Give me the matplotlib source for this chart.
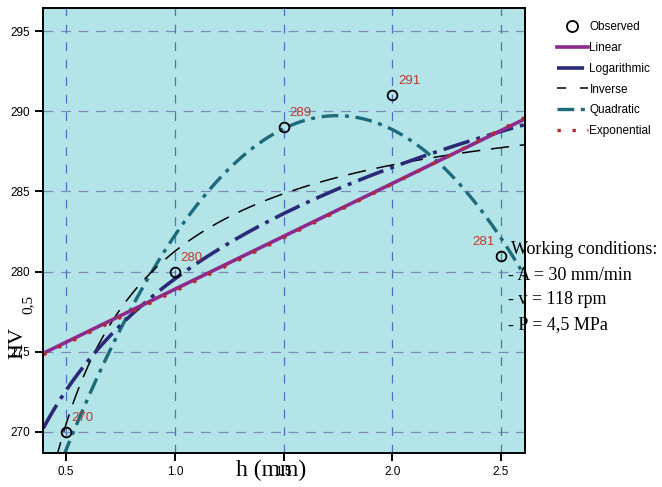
import numpy as np
import matplotlib
matplotlib.use('Agg')
import matplotlib.pyplot as plt
from matplotlib.lines import Line2D

# observed hardness vs depth
obs_h = [0.5, 1.0, 1.5, 2.0, 2.5]
obs_hv = [270, 280, 289, 291, 281]
obs_labels = ['270', '280', '289', '291', '281']

x_ticks = [0.5, 1.0, 1.5, 2.0, 2.5]
y_ticks = [270, 275, 280, 285, 290, 295]
conditions = ['Working conditions:', '- A = 30 mm/min', '- v = 118 rpm', '- P = 4,5 MPa']

h = np.array(obs_h)
hv = np.array(obs_hv)

# regression models fitted on the observed points
xs = np.linspace(0.395, 2.61, 300)
lin = np.polyval(np.polyfit(h, hv, 1), xs)
logc = np.polyfit(np.log(h), hv, 1)
logm = np.polyval(logc, np.log(xs))
invc = np.polyfit(1 / h, hv, 1)
inv = np.polyval(invc, 1 / xs)
quad = np.polyval(np.polyfit(h, hv, 2), xs)
expo = np.exp(np.polyval(np.polyfit(h, np.log(hv), 1), xs))

sans = 'Liberation Sans'
serif = 'Liberation Serif'

fig = plt.figure(figsize=(6.62, 4.87), dpi=100)
ax = fig.add_axes([43 / 662, 34 / 487, 482 / 662, 445 / 487])
ax.set_facecolor('#b3e5e8')

for yv in y_ticks:
    ax.axhline(yv, color='#7f8cb8', lw=0.9, ls=(0, (8, 6)), zorder=1)
for xv in x_ticks:
    ax.axvline(xv, color='#4f6fc0', lw=0.9, ls=(0, (7, 7)), zorder=1)

ax.plot(xs, quad, color='#1d6a7c', lw=2.4, ls=(0, (5, 2, 1.2, 2)), zorder=3)
ax.plot(xs, inv, color='black', lw=1.1, ls=(0, (12, 7)), zorder=3)
ax.plot(xs, logm, color='#2b2a78', lw=2.6, ls=(0, (7.5, 2, 1.1, 2)), zorder=3)
ax.plot(xs, lin, color='#8e2a8c', lw=2.6, zorder=4)
ax.plot(xs, expo, color='#b52a2a', lw=2.4, ls=(0, (1, 4)), zorder=5)
ax.plot(h, hv, 'o', mfc='none', mec='black', mew=1.3, ms=7, zorder=6)

for xv, yv, lab in zip(obs_h, obs_hv, obs_labels):
    if xv == 2.5:
        ax.annotate(lab, (xv, yv), xytext=(-5, 10), textcoords='offset points',
                    ha='right', va='center', color='#c0392b', fontsize=9.5, family=sans)
    else:
        ax.annotate(lab, (xv, yv), xytext=(4, 10), textcoords='offset points',
                    ha='left', va='center', color='#c0392b', fontsize=9.5, family=sans)

ax.set_xlim(0.394, 2.61)
ax.set_ylim(268.69, 296.44)
ax.set_xticks(x_ticks)
ax.set_xticklabels(['0.5', '1.0', '1.5', '2.0', '2.5'], family=sans, fontsize=8.5)
ax.set_yticks(y_ticks)
ax.set_yticklabels([str(v) for v in y_ticks], family=sans, fontsize=8.5)
ax.tick_params(axis='both', length=6, width=1.4, color='black', direction='out')
for s in ax.spines.values():
    s.set_linewidth(1.4)
    s.set_zorder(7)

fig.text(271 / 662, 1 - 470 / 487, 'h (mm)', family=serif, fontsize=17,
         ha='center', va='center')
fig.text(18 / 662, 1 - 343 / 487, 'HV', family=serif, fontsize=16,
         rotation=90, ha='center', va='center')
fig.text(28 / 662, 1 - 304 / 487, '0,5', family=serif, fontsize=11,
         rotation=90, ha='center', va='center')

for i, line in enumerate(conditions):
    fig.text(508 / 662 if i else 511 / 662, 1 - (250 + 25 * i) / 487, line,
             family=serif, fontsize=13, ha='left', va='center')

handles = [
    Line2D([], [], ls='none', marker='o', mfc='none', mec='black', mew=1.3, ms=8),
    Line2D([], [], color='#8e2a8c', lw=2.6),
    Line2D([], [], color='#2b2a78', lw=2.6, ls=(0, (7.5, 2, 1.1, 2))),
    Line2D([], [], color='black', lw=1.1, ls=(0, (6, 9))),
    Line2D([], [], color='#1d6a7c', lw=2.4, ls=(0, (5, 2, 1.2, 2))),
    Line2D([], [], color='#b52a2a', lw=2.4, ls=(0, (1, 3.5))),
]
names = ['Observed', 'Linear', 'Logarithmic', 'Inverse', 'Quadratic', 'Exponential']
fig.legend(handles, names, loc='upper left', bbox_to_anchor=(557 / 662, 1 - 21 / 487),
           frameon=False, prop={'family': sans, 'size': 8.5}, handlelength=2.6,
           handletextpad=0.15, labelspacing=0.75, borderaxespad=0, borderpad=0)

fig.savefig('out.png', dpi=100)
